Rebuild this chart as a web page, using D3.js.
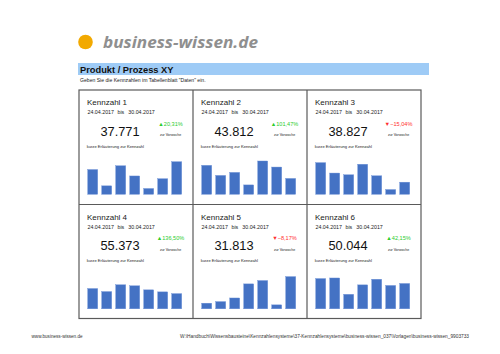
<!DOCTYPE html>
<html><head><meta charset="utf-8">
<script src="https://cdn.jsdelivr.net/npm/d3@7/dist/d3.min.js"></script>
<style>html,body{margin:0;padding:0;background:#fff}svg{display:block}</style>
</head><body>
<svg id="c" width="500" height="354"></svg>
<script>
// ---- data ----
const days = ["24.04.", "25.04.", "26.04.", "27.04.", "28.04.", "29.04.", "30.04."];
const titles = ["Kennzahl 1", "Kennzahl 2", "Kennzahl 3", "Kennzahl 4", "Kennzahl 5", "Kennzahl 6"];
const dateFrom = "24.04.2017";
const dateTo = "30.04.2017";
const changes = [20.31, 101.47, -15.04, 136.50, -8.17, 42.15];
const k1 = [6975, 2382, 8037, 5167, 1636, 4392, 9182];
const k2 = [8159, 5316, 6169, 2644, 9382, 7676, 4466];
const k3 = [8917, 5983, 5498, 8461, 5214, 1339, 3415];
const k4 = [8278, 7036, 9809, 9396, 7740, 6912, 6202];
const k5 = [1581, 2025, 3051, 7018, 7961, 1110, 9067];
const k6 = [8516, 8683, 4078, 6741, 8322, 6574, 7130];
const series = [k1, k2, k3, k4, k5, k6];
const yMax = [10000, 10000, 10000, 14500, 10000, 10000];

// ---- drawing ----
const svg = d3.select("#c");
const de = d3.formatLocale({decimal: ",", thousands: ".", grouping: [3], currency: ["", "€"]});
const fmtInt = de.format(",");
const fmtPct = de.format(".2f");
const sans = "'Liberation Sans', Arial, sans-serif";

// logo
svg.append("circle").attr("cx", 85.5).attr("cy", 42).attr("r", 7.3).attr("fill", "#f2a900");
svg.append("text").attr("x", 103).attr("y", 47.5)
  .attr("font-family", "'Open Sans', 'Liberation Sans', sans-serif")
  .attr("font-weight", 700).attr("font-style", "italic").attr("font-size", 16.5)
  .attr("fill", "#8f8f8f").attr("textLength", 155).attr("lengthAdjust", "spacingAndGlyphs")
  .text("business-wissen.de");

// header band
svg.append("rect").attr("x", 78).attr("y", 63).attr("width", 351).attr("height", 12).attr("fill", "#9ecbf6");
svg.append("text").attr("x", 80).attr("y", 73.2).attr("font-family", sans).attr("font-weight", 700)
  .attr("font-size", 9.3).attr("fill", "#111").text("Produkt / Prozess XY");
svg.append("text").attr("x", 80).attr("y", 82).attr("font-family", sans)
  .attr("font-size", 5.1).attr("fill", "#222").text("Geben Sie die Kennzahlen im Tabellenblatt \"Daten\" ein.");

// grid
const gx = 79, gy = 90, cw = 114, rh = 114.5;
const grid = svg.append("g").attr("stroke", "#5a5a5a").attr("stroke-width", 1.2).attr("fill", "none");
grid.append("rect").attr("x", gx).attr("y", gy).attr("width", cw * 3).attr("height", rh * 2 - 0.5);
grid.append("line").attr("x1", gx).attr("x2", gx + cw * 3).attr("y1", gy + rh).attr("y2", gy + rh);
[1, 2].forEach(i => grid.append("line").attr("x1", gx + cw * i).attr("x2", gx + cw * i).attr("y1", gy).attr("y2", gy + rh * 2 - 0.5));

// panels
series.forEach((vals, i) => {
  const col = i % 3, row = Math.floor(i / 3);
  const px = gx + col * cw, py = gy + row * rh;
  const g = svg.append("g").attr("transform", `translate(${px},${py})`).attr("font-family", sans);

  g.append("text").attr("x", 8).attr("y", 15.3).attr("font-size", 8).attr("fill", "#1a1a1a").text(titles[i]);
  g.append("text").attr("x", 8.5).attr("y", 24.3).attr("font-size", 5.3).attr("fill", "#1a1a1a").text(dateFrom);
  g.append("text").attr("x", 38.5).attr("y", 24.3).attr("font-size", 5.3).attr("fill", "#1a1a1a").text("bis");
  g.append("text").attr("x", 49.3).attr("y", 24.3).attr("font-size", 5.3).attr("fill", "#1a1a1a").text(dateTo);

  const total = d3.sum(vals);
  g.append("text").attr("x", 41).attr("y", 45.5).attr("text-anchor", "middle")
    .attr("font-size", 12.8).attr("fill", "#111").text(fmtInt(total));

  const up = changes[i] >= 0;
  g.append("text").attr("x", 91.5).attr("y", 35.7).attr("text-anchor", "middle")
    .attr("font-size", 5.6).attr("fill", up ? "#2ecc2e" : "#ff3030")
    .text((up ? "▲" : "▼") + fmtPct(changes[i]) + "%");
  g.append("text").attr("x", 91.5).attr("y", 46).attr("text-anchor", "middle")
    .attr("font-size", 3.5).attr("fill", "#222").text("zur Vorwoche");
  g.append("text").attr("x", 7.7).attr("y", 57.7).attr("font-size", 4.1).attr("fill", "#222")
    .text("kurze Erläuterung zur Kennzahl");

  const bottom = 104.3, H = 35.5;
  const x = d3.scaleBand().domain(days).range([6.7, 104.7]).paddingInner(0.286).paddingOuter(0.143);
  const y = d3.scaleLinear().domain([0, yMax[i]]).range([bottom, bottom - H]);
  g.append("g").selectAll("rect").data(vals).join("rect")
    .attr("x", (d, j) => x(days[j])).attr("width", x.bandwidth())
    .attr("y", d => y(d)).attr("height", d => bottom - y(d))
    .attr("fill", "#4472c4").attr("stroke", "#6a8fd6").attr("stroke-width", 0.4);
});

// footer
svg.append("text").attr("x", 31.5).attr("y", 337.5).attr("font-family", "'Liberation Sans', sans-serif")
  .attr("font-size", 4.6).attr("fill", "#333").text("www.business-wissen.de");
svg.append("text").attr("x", 180).attr("y", 337.5).attr("font-family", "'Liberation Sans', sans-serif")
  .attr("font-size", 4.6).attr("fill", "#333").attr("textLength", 289).attr("lengthAdjust", "spacingAndGlyphs")
  .text("W:\\Handbuch\\Wissensbausteine\\Kennzahlensysteme\\37-Kennzahlensysteme\\business-wissen_037\\Vorlagen\\business-wissen_9903733");
</script>
</body></html>
